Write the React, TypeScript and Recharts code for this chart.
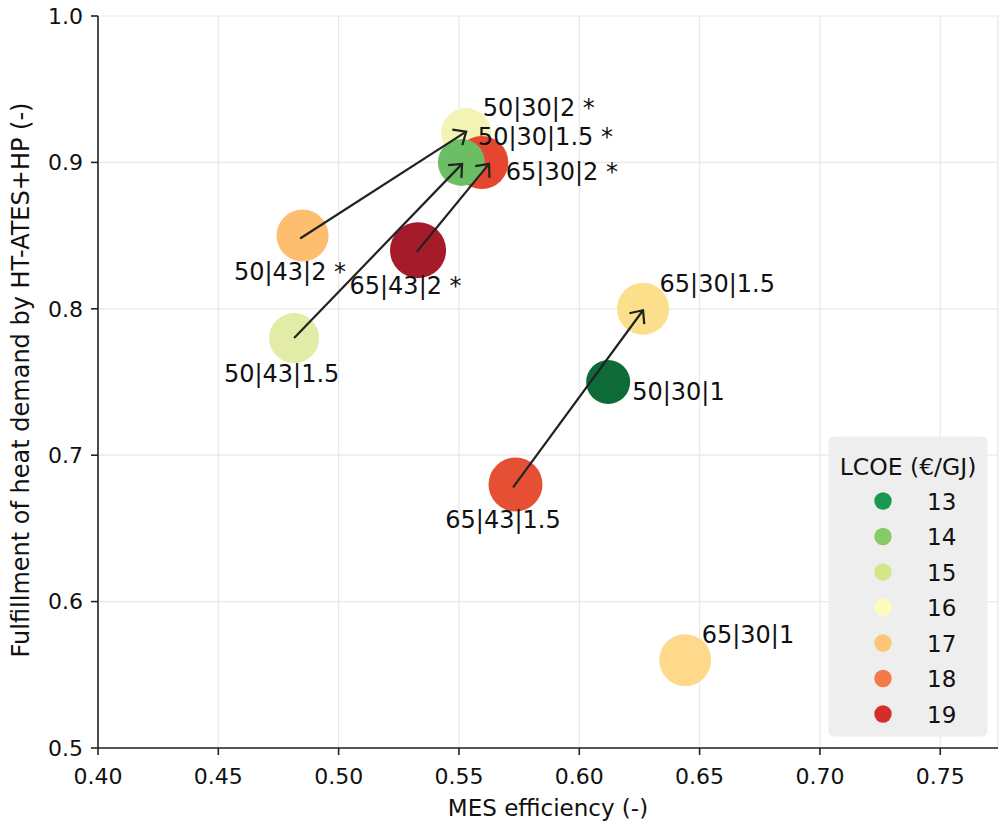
import React from "react";
import {
  ScatterChart,
  Scatter,
  XAxis,
  YAxis,
  CartesianGrid,
  ReferenceLine,
  Legend,
} from "recharts";

// configurations, in drawing order (later ones sit on top)
const configNames = [
  "50|30|2 *",
  "65|30|2 *",
  "50|30|1.5 *",
  "50|43|2 *",
  "65|43|2 *",
  "50|43|1.5",
  "65|30|1.5",
  "50|30|1",
  "65|43|1.5",
  "65|30|1",
];
const mesEfficiency = [0.553, 0.5595, 0.551, 0.485, 0.533, 0.4815, 0.6265, 0.612, 0.5735, 0.644];
const heatFulfillment = [0.92, 0.9, 0.9, 0.85, 0.84, 0.78, 0.8, 0.75, 0.68, 0.56];

// arrows: from 43 °C return temp. case to the matching 30 °C case
const arrowFromX = [0.484, 0.4815, 0.5325, 0.5725];
const arrowFromY = [0.848, 0.78, 0.839, 0.678];
const arrowToX = [0.553, 0.5513, 0.5625, 0.6265];
const arrowToY = [0.921, 0.899, 0.899, 0.799];

const lcoeLevels = [13, 14, 15, 16, 17, 18, 19];

const xTicks = [0.4, 0.45, 0.5, 0.55, 0.6, 0.65, 0.7, 0.75];
const yTicks = [0.5, 0.6, 0.7, 0.8, 0.9, 1.0];

// styles
const dotColors = [
  "#f3f3b5",
  "#e4462f",
  "#6cbe64",
  "#fdbe6f",
  "#a61b2a",
  "#e3eca6",
  "#fbdf8a",
  "#0e6a37",
  "#e55035",
  "#fed98b",
];
const dotRadius = [25, 26.5, 23.5, 26, 28, 25, 26, 22, 27, 26];
const labelSide = ["ur", "r", "ur", "b", "b", "b", "ur", "r", "b", "ur"];
const legendColors = ["#1a9850", "#86cb66", "#d3e68a", "#fefbbd", "#fec574", "#f47a4a", "#d52e2a"];

const FONT = "DejaVu Sans";
const INK = "#111";

const points = configNames.map((name, i) => ({
  name,
  x: mesEfficiency[i],
  y: heatFulfillment[i],
  side: labelSide[i],
}));

const Arrow = (props: any) => {
  const { x1, y1, x2, y2 } = props;
  const ang = Math.atan2(y1 - y2, x1 - x2);
  const L = 14;
  const a = 0.72;
  const h1 = [x2 + L * Math.cos(ang + a), y2 + L * Math.sin(ang + a)];
  const h2 = [x2 + L * Math.cos(ang - a), y2 + L * Math.sin(ang - a)];
  return (
    <g>
      <line x1={x1} y1={y1} x2={x2} y2={y2} stroke="#222" strokeWidth={2.2} />
      <polyline
        points={`${h1[0]},${h1[1]} ${x2},${y2} ${h2[0]},${h2[1]}`}
        fill="none"
        stroke="#222"
        strokeWidth={2.2}
      />
    </g>
  );
};

const PointLabel = (props: any) => {
  const { cx, cy, payload } = props;
  let x = cx + 16.5;
  let y = cy - 17;
  let anchor: "start" | "middle" = "start";
  if (payload.side === "r") {
    x = cx + 24;
    y = cy + 17.5;
  } else if (payload.side === "b") {
    x = cx - 12.5;
    y = cy + 44;
    anchor = "middle";
  }
  return (
    <text x={x} y={y} textAnchor={anchor} fontSize={24} fontFamily={FONT} fill={INK}>
      {payload.name}
    </text>
  );
};

const LegendBox = () => (
  <svg width={160} height={301} style={{ display: "block" }}>
    <rect x={0.5} y={0.5} width={159} height={300} rx={5} fill="#eeeeee" />
    <text x={80} y={39} textAnchor="middle" fontSize={23.5} fontFamily={FONT} fill={INK}>
      LCOE (€/GJ)
    </text>
    {lcoeLevels.map((v, i) => (
      <g key={v}>
        <circle cx={55} cy={65 + i * 35.5} r={8.7} fill={legendColors[i]} />
        <text x={99} y={65 + i * 35.5 + 8.5} fontSize={23} fontFamily={FONT} fill={INK}>
          {v}
        </text>
      </g>
    ))}
  </svg>
);

export default function App() {
  return (
    <div
      style={{
        position: "absolute",
        left: 0,
        top: 0,
        width: 999,
        height: 824,
        background: "#fff",
        fontFamily: FONT,
      }}
    >
      <ScatterChart width={999} height={824} margin={{ top: 16, right: 1, bottom: 0, left: 0 }}>
        <CartesianGrid stroke="#e8e8e8" strokeWidth={1.2} />
        <XAxis
          type="number"
          dataKey="x"
          domain={[0.4, 0.774]}
          ticks={xTicks}
          allowDataOverflow
          tickFormatter={(v: number) => v.toFixed(2)}
          height={76}
          tickSize={7}
          tickMargin={13}
          axisLine={{ stroke: "#222", strokeWidth: 1.6 }}
          tickLine={{ stroke: "#222", strokeWidth: 1.6 }}
          tick={{ fill: INK, fontSize: 22, fontFamily: FONT }}
          label={{
            content: (p: any) => (
              <text
                x={p.viewBox.x + p.viewBox.width / 2}
                y={816}
                textAnchor="middle"
                fontSize={23}
                fontFamily={FONT}
                fill={INK}
              >
                MES efficiency (-)
              </text>
            ),
          }}
        />
        <YAxis
          type="number"
          dataKey="y"
          domain={[0.5, 1.0]}
          ticks={yTicks}
          allowDataOverflow
          tickFormatter={(v: number) => v.toFixed(1)}
          width={98}
          tickSize={7}
          tickMargin={8}
          axisLine={{ stroke: "#222", strokeWidth: 1.6 }}
          tickLine={{ stroke: "#222", strokeWidth: 1.6 }}
          tick={{ fill: INK, fontSize: 22, fontFamily: FONT }}
          label={{
            content: (p: any) => {
              const cy = p.viewBox.y + p.viewBox.height / 2 - 2;
              return (
                <text
                  x={29}
                  y={cy}
                  transform={`rotate(-90 29 ${cy})`}
                  textAnchor="middle"
                  fontSize={24}
                  fontFamily={FONT}
                  fill={INK}
                >
                  Fulfillment of heat demand by HT-ATES+HP (-)
                </text>
              );
            },
          }}
        />
        {points.map((p, i) => (
          <Scatter
            key={p.name}
            data={[p]}
            fill={dotColors[i]}
            isAnimationActive={false}
            shape={(s: any) => <circle cx={s.cx} cy={s.cy} r={dotRadius[i]} fill={dotColors[i]} />}
          />
        ))}
        {arrowFromX.map((fx, i) => (
          <ReferenceLine
            key={i}
            segment={[
              { x: fx, y: arrowFromY[i] },
              { x: arrowToX[i], y: arrowToY[i] },
            ]}
            ifOverflow="visible"
            shape={Arrow}
            zIndex={700}
          />
        ))}
        <Scatter data={points} isAnimationActive={false} shape={PointLabel} zIndex={800} />
        <Legend
          layout="vertical"
          align="center"
          verticalAlign="middle"
          content={LegendBox}
          wrapperStyle={{ position: "absolute", left: 828, top: 436, width: 160, height: 301 }}
        />
      </ScatterChart>
    </div>
  );
}
